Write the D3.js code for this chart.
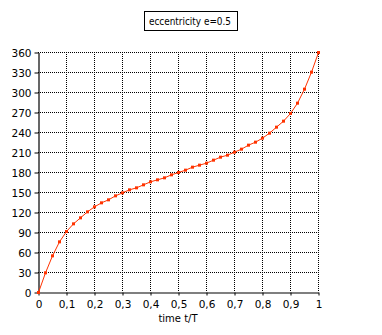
<!DOCTYPE html>
<html>
<head>
<meta charset="utf-8">
<script src="https://cdn.jsdelivr.net/npm/d3@7"></script>
<style>
  body { margin: 0; background: #fff; }
  svg { display: block; font-family: "DejaVu Sans", Verdana, sans-serif; }
</style>
</head>
<body>
<svg id="chart" width="382" height="335"></svg>
<script>
// time t/T, every 0.025
const times = [0, 0.025, 0.05, 0.075, 0.1, 0.125, 0.15, 0.175, 0.2, 0.225, 0.25, 0.275, 0.3, 0.325, 0.35, 0.375, 0.4, 0.425, 0.45, 0.475, 0.5,
  0.525, 0.55, 0.575, 0.6, 0.625, 0.65, 0.675, 0.7, 0.725, 0.75, 0.775, 0.8, 0.825, 0.85, 0.875, 0.9, 0.925, 0.95, 0.975, 1];
// angle in degrees
const angles = [0, 29.5, 55, 76, 91.5, 103, 112, 121, 128.5, 134.5, 139, 145, 149.5, 154, 157, 161.5, 166, 169, 172, 176.5, 180,
  183.5, 188, 191, 194, 198.5, 203, 206, 210.5, 215, 221, 225.5, 231.5, 239, 248, 257, 268.5, 284, 305, 330.5, 360];
const xTicks = [0, 0.1, 0.2, 0.3, 0.4, 0.5, 0.6, 0.7, 0.8, 0.9, 1];
const yTicks = [0, 30, 60, 90, 120, 150, 180, 210, 240, 270, 300, 330, 360];
const title = 'eccentricity e=0.5';
const xLabel = 'time t/T';

const svg = d3.select('#chart');
const plotL = 38, plotR = 318, plotT = 52, plotB = 292;

const x = d3.scaleLinear().domain([0, 1]).range([plotL, plotR]);
const y = d3.scaleLinear().domain([0, 360]).range([plotB, plotT]);

// dotted grid
svg.append('g')
    .selectAll('line')
    .data(xTicks.slice(1))
    .enter().append('line')
    .attr('x1', d => x(d) + 0.5).attr('x2', d => x(d) + 0.5)
    .attr('y1', plotT).attr('y2', plotB)
    .attr('stroke', '#000').attr('stroke-dasharray', '1,1');
svg.append('g')
    .selectAll('line')
    .data(yTicks.slice(1))
    .enter().append('line')
    .attr('x1', plotL).attr('x2', plotR + 1)
    .attr('y1', d => y(d) + 0.5).attr('y2', d => y(d) + 0.5)
    .attr('stroke', '#000').attr('stroke-dasharray', '1,1');

// axes
const xAxis = svg.append('g')
    .attr('transform', 'translate(0.5,' + (plotB + 0.5) + ')')
    .call(d3.axisBottom(x).tickValues(xTicks).tickSizeInner(3).tickSizeOuter(0)
        .tickFormat(d => String(d).replace('.', ',')));
const yAxis = svg.append('g')
    .attr('transform', 'translate(' + (plotL + 0.5) + ',0.5)')
    .call(d3.axisLeft(y).tickValues(yTicks).tickSizeInner(4).tickSizeOuter(0));
[xAxis, yAxis].forEach(a => {
    a.select('.domain').attr('stroke', '#000').attr('stroke-width', 1.2);
    a.selectAll('text').attr('font-size', 10.5).attr('font-family', '"DejaVu Sans", Verdana, sans-serif').attr('fill', '#000');
});
xAxis.selectAll('text').attr('dy', '0.88em');
yAxis.selectAll('text').attr('dy', '0.36em').attr('x', -7);

// curve
const pts = times.map((t, i) => ({ t: t, a: angles[i] }));
svg.append('path')
    .datum(pts)
    .attr('fill', 'none')
    .attr('stroke', '#ff3300')
    .attr('stroke-width', 1)
    .attr('d', d3.line().x(d => x(d.t) + 0.5).y(d => y(d.a) + 0.5));
svg.append('g')
    .selectAll('rect')
    .data(pts)
    .enter().append('rect')
    .attr('x', d => x(d.t) - 1)
    .attr('y', d => y(d.a) - 1)
    .attr('width', 3).attr('height', 3)
    .attr('fill', '#ff3300');

// title box
svg.append('rect')
    .attr('x', 144.5).attr('y', 11.5).attr('width', 93).attr('height', 19)
    .attr('fill', '#fff').attr('stroke', '#000');
svg.append('text')
    .attr('x', 149).attr('y', 25)
    .attr('font-size', 10)
    .attr('textLength', 82)
    .attr('lengthAdjust', 'spacingAndGlyphs')
    .text(title);

// x label
svg.append('text')
    .attr('x', 178).attr('y', 322)
    .attr('text-anchor', 'middle')
    .attr('font-size', 10)
    .text(xLabel);
</script>
</body>
</html>
